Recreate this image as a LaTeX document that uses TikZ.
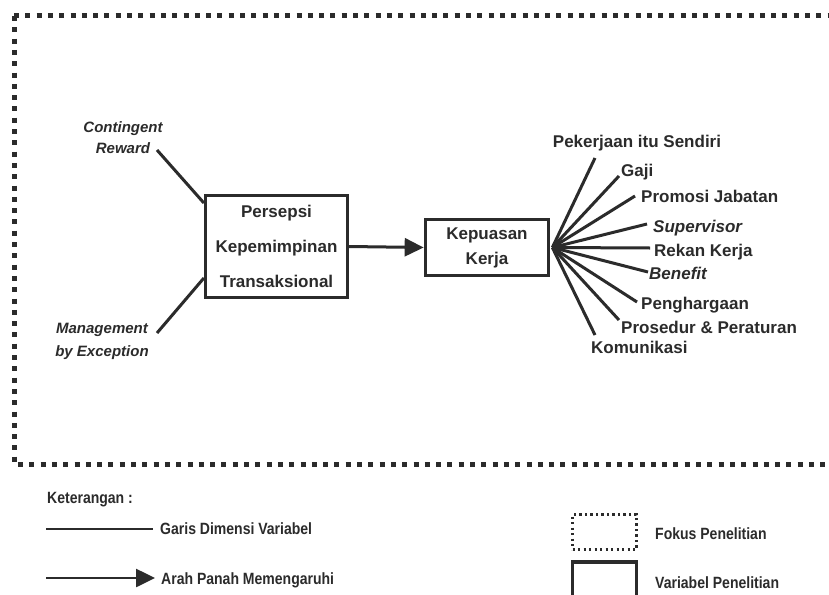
\documentclass[tikz,border=0pt]{standalone}
\usepackage{fontspec}
\setmainfont{Liberation Sans}
\newfontfamily\legfont[FakeStretch=0.86]{Liberation Sans}
\usetikzlibrary{arrows.meta}
\definecolor{ink}{HTML}{2B2B2B}
\tikzset{
  frame/.style={draw=ink, line width=5pt, dash pattern=on 5pt off 6.3pt},
  varbox/.style={draw=ink, line width=3.2pt, align=center, text=ink, inner sep=0pt},
  dim/.style={draw=ink, line width=3pt},
  infl/.style={draw=ink, line width=3pt, -{Triangle[length=19pt,width=18pt]}},
  lbl/.style={font=\fontsize{17}{20}\selectfont\bfseries, inner sep=0pt, text=ink},
  ilbl/.style={font=\fontsize{17}{20}\selectfont\bfseries\itshape, inner sep=0pt, text=ink},
  dimlbl/.style={align=center, inner sep=0pt, text=ink},
  legtext/.style={font=\legfont\fontsize{16.3}{19}\selectfont\bfseries, inner sep=0pt, text=ink, anchor=base west},
  legline/.style={draw=ink, line width=2.6pt},
  legarrow/.style={draw=ink, line width=2.6pt, -{Triangle[length=19pt,width=18pt]}},
}
\begin{document}
\begin{tikzpicture}[x=1pt,y=-1pt]
\useasboundingbox (0,0) rectangle (829,594);
\fill[white] (0,0) rectangle (829,594);

% focus frame
\draw[frame] (14,16) -- (840,16);
\draw[frame] (14,16) -- (14,464) -- (840,464);

% variable boxes
\node[varbox, minimum width=142pt, minimum height=102pt,
      font=\fontsize{17}{35}\selectfont\bfseries] (per) at (276.5,246.5)
      {Persepsi\\Kepemimpinan\\Transaksional};
\node[varbox, minimum width=123.5pt, minimum height=56.5pt,
      font=\fontsize{17}{25}\selectfont\bfseries] (kep) at (487,247.5)
      {Kepuasan\\Kerja};
\draw[infl] (per.east) -- (kep.west);

% left dimensions
\node[dimlbl, font=\fontsize{15}{21}\selectfont\bfseries\itshape] (cr) at (123,137.5) {Contingent\\Reward};
\node[dimlbl, font=\fontsize{15}{23.5}\selectfont\bfseries\itshape] (mbe) at (102,341.6) {Management\\by Exception};
\coordinate (cr-a) at (157,150);
\coordinate (cr-b) at (204,203);
\coordinate (mbe-a) at (157,333);
\coordinate (mbe-b) at (204,278);
\draw[dim] (cr-a) -- (per.west |- cr-b);
\draw[dim] (mbe-a) -- (per.west |- mbe-b);

% right dimensions
\node[lbl, anchor=base] (d1) at (637,147) {Pekerjaan itu Sendiri};
\node[lbl, anchor=base west] (d2) at (621,176) {Gaji};
\node[lbl, anchor=base west] (d3) at (641,202) {Promosi Jabatan};
\node[ilbl, anchor=base west] (d4) at (653,232) {Supervisor};
\node[lbl, anchor=base west] (d5) at (654,256) {Rekan Kerja};
\node[ilbl, anchor=base west] (d6) at (649,279) {Benefit};
\node[lbl, anchor=base west] (d7) at (641,309) {Penghargaan};
\node[lbl, anchor=base west] (d8) at (621,333) {Prosedur \& Peraturan};
\node[lbl, anchor=base west] (d9) at (591,353) {Komunikasi};
\coordinate (f) at ([xshift=2pt]kep.east);
\coordinate (e1) at (595,158);
\coordinate (e2) at (619,176);
\coordinate (e3) at (635,196);
\coordinate (e4) at (647,224);
\coordinate (e5) at (650,248);
\coordinate (e6) at (648,272);
\coordinate (e7) at (637,302);
\coordinate (e8) at (619,320);
\coordinate (e9) at (595,335);
\foreach \i in {1,...,9} { \draw[dim] (f) -- (e\i); }

% legend
\node[legtext] (ket) at (47,503) {Keterangan :};
\coordinate (g1) at (46,529);
\coordinate (g2) at (153,529);
\draw[legline] (g1) -- (g2);
\node[legtext] (garis) at (160,534) {Garis Dimensi Variabel};
\coordinate (a1) at (46,578);
\coordinate (a2) at (155,578);
\draw[legarrow] (a1) -- (a2);
\node[legtext] (arah) at (161,584) {Arah Panah Memengaruhi};

\node[draw=ink, line width=2.4pt, dash pattern=on 2.2pt off 3.3pt, minimum width=64pt, minimum height=35pt, inner sep=0pt] (fokbox) at (604.5,532) {};
\node[legtext] (fok) at (655,539) {Fokus Penelitian};
\node[draw=ink, line width=3.2pt, minimum width=64pt, minimum height=50pt, inner sep=0pt] (varlegbox) at (604.5,587) {};
\node[legtext] (var) at (655,588) {Variabel Penelitian};
\end{tikzpicture}
\end{document}
